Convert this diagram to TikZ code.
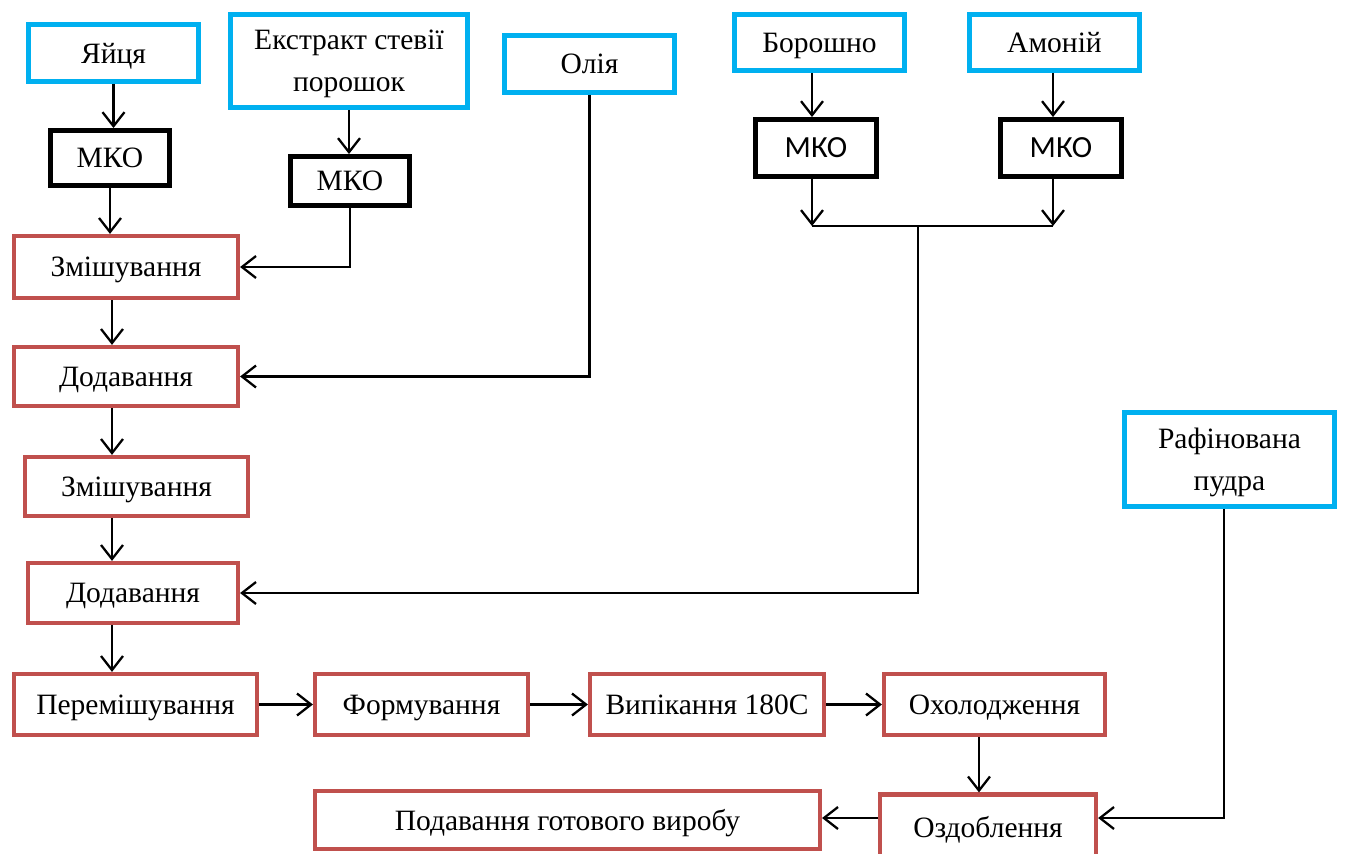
\documentclass[tikz,border=0pt]{standalone}
\usepackage{fontspec}
\setmainfont{Liberation Serif}
\newfontfamily\calib{Carlito}
\usetikzlibrary{arrows.meta}
\definecolor{cblue}{RGB}{0,176,240}
\definecolor{cred}{RGB}{192,80,77}
\begin{document}
\begin{tikzpicture}[x=0.02cm,y=-0.02cm,
  base/.style={rectangle,inner sep=2pt,align=center,text depth=0pt,font=\fontsize{16.8}{21}\selectfont},
  bluebox/.style={base,draw=cblue,line width=2.8pt},
  blackbox/.style={base,draw=black,line width=2.8pt},
  redbox/.style={base,draw=cred,line width=2.4pt},
  arr/.style={line width=1.3pt,-{Straight Barb[length=8pt,width=12.5pt,line width=1.3pt]}},
  ln/.style={line width=1.3pt}]
\useasboundingbox (0,0) rectangle (1345,853);
\clip (0,0) rectangle (1345,853);
% raw materials
\node[bluebox,minimum width=3.4cm,minimum height=1.14cm] (yay) at (113.5,53) {Яйця};
\node[bluebox,minimum width=4.74cm,minimum height=1.86cm] (ext) at (349,61) {Екстракт стевії\\[3pt]порошок};
\node[bluebox,minimum width=3.4cm,minimum height=1.14cm] (oli) at (589.5,64) {Олія};
\node[bluebox,minimum width=3.4cm,minimum height=1.12cm] (bor) at (819.5,42.5) {Борошно};
\node[bluebox,minimum width=3.4cm,minimum height=1.12cm] (amo) at (1054.5,42.5) {Амоній};
\node[bluebox,minimum width=4.2cm,minimum height=1.88cm] (raf) at (1229.5,459.5) {Рафінована\\[3pt]пудра};
% MKO
\node[blackbox,minimum width=2.38cm,minimum height=1.1cm] (mko1) at (110,158) {МКО};
\node[blackbox,minimum width=2.38cm,minimum height=0.98cm] (mko2) at (350,181) {МКО};
\node[blackbox,minimum width=2.42cm,minimum height=1.14cm,font=\calib\fontsize{17.5}{21}\selectfont] (mko3) at (816,148) {МКО};
\node[blackbox,minimum width=2.42cm,minimum height=1.14cm,font=\calib\fontsize{17.5}{21}\selectfont] (mko4) at (1061,148) {МКО};
% process
\node[redbox,minimum width=4.48cm,minimum height=1.24cm] (zm1) at (126,267) {Змішування};
\node[redbox,minimum width=4.48cm,minimum height=1.18cm] (dod1) at (126,376.5) {Додавання};
\node[redbox,minimum width=4.46cm,minimum height=1.18cm] (zm2) at (136.5,486.5) {Змішування};
\node[redbox,minimum width=4.2cm,minimum height=1.2cm] (dod2) at (133,593) {Додавання};
\node[redbox,minimum width=4.86cm,minimum height=1.22cm] (per) at (135.5,704.5) {Перемішування};
\node[redbox,minimum width=4.26cm,minimum height=1.22cm] (frm) at (421.5,704.5) {Формування};
\node[redbox,minimum width=4.68cm,minimum height=1.22cm] (vyp) at (707,704.5) {Випікання 180С};
\node[redbox,minimum width=4.42cm,minimum height=1.22cm] (okh) at (994.5,704.5) {Охолодження};
\node[redbox,minimum width=4.32cm,minimum height=1.3cm] (ozd) at (988,827) {Оздоблення};
\node[redbox,minimum width=10.1cm,minimum height=1.16cm] (pod) at (567.5,820) {Подавання готового виробу};
% helper coordinates
\coordinate (cx) at (112,0);
\coordinate (j1) at (812,226);
\coordinate (j2) at (1053,226);
\coordinate (jm) at (918,226);
\coordinate (ox) at (979,0);
\coordinate (oy) at (0,818);
\coordinate (rx) at (1224,0);
% connectors
\draw[arr] (yay.south) -- (yay.south |- mko1.north);
\draw[arr] (mko1.south) -- (mko1.south |- zm1.north);
\draw[arr] (ext.south) -- (ext.south |- mko2.north);
\draw[arr] (mko2.south) |- (zm1.east);
\draw[arr] (oli.south) |- (dod1.east);
\draw[arr] (zm1.south -| cx) -- (dod1.north -| cx);
\draw[arr] (dod1.south -| cx) -- (zm2.north -| cx);
\draw[arr] (zm2.south -| cx) -- (dod2.north -| cx);
\draw[arr] (dod2.south -| cx) -- (per.north -| cx);
\draw[arr] (bor.south -| j1) -- (mko3.north -| j1);
\draw[arr] (amo.south -| j2) -- (mko4.north -| j2);
\draw[arr] (mko3.south -| j1) -- (j1);
\draw[arr] (mko4.south -| j2) -- (j2);
\draw[ln] (j1) -- (j2);
\draw[arr] (jm) |- (dod2.east);
\draw[arr] (per.east) -- (frm.west);
\draw[arr] (frm.east) -- (vyp.west);
\draw[arr] (vyp.east) -- (okh.west);
\draw[arr] (okh.south -| ox) -- (ozd.north -| ox);
\draw[arr] (ozd.west |- oy) -- (pod.east |- oy);
\draw[arr] (raf.south -| rx) |- (ozd.east |- oy);
\end{tikzpicture}
\end{document}
